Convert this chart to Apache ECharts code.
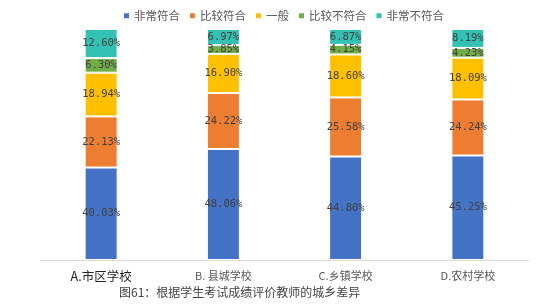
<!DOCTYPE html>
<html>
<head>
<meta charset="utf-8">
<script src="https://cdn.jsdelivr.net/npm/echarts@6/dist/echarts.min.js"></script>
<style>
  html, body {margin: 0; padding: 0; background: #fff;}
  #chart {width: 536px; height: 308px;}
</style>
</head>
<body>
<div id="chart"></div>
<script>
const categories = ['A.市区学校', 'B. 县城学校', 'C.乡镇学校', 'D.农村学校']
const seriesNames = ['非常符合', '比较符合', '一般', '比较不符合', '非常不符合']
const veryYes = [40.03, 48.06, 44.80, 45.25]
const fairlyYes = [22.13, 24.22, 25.58, 24.24]
const neutral = [18.94, 16.90, 18.60, 18.09]
const fairlyNo = [6.30, 3.85, 4.15, 4.23]
const veryNo = [12.60, 6.97, 6.87, 8.19]
const caption = '图61：根据学生考试成绩评价教师的城乡差异'

const colors = ['#4472C4', '#ED7D31', '#FFC000', '#70AD47', '#33C1B3']
const values = [veryYes, fairlyYes, neutral, fairlyNo, veryNo]

const myEcharts = echarts.init(document.getElementById('chart'))
myEcharts.setOption({
  animation: false,
  color: colors,
  textStyle: {fontFamily: '"Noto Sans CJK SC", sans-serif'},
  legend: {
    top: 5,
    left: 117,
    itemWidth: 7,
    itemHeight: 7,
    itemGap: 8,
    icon: 'rect',
    textStyle: {fontSize: 11.5, color: '#595959', padding: [0, 0, 0, -1]},
    data: seriesNames
  },
  grid: {left: 40, right: 7, top: 29, bottom: 48},
  xAxis: {
    type: 'category',
    data: categories,
    axisTick: {show: false},
    axisLine: {lineStyle: {color: '#d9d9d9'}},
    axisLabel: {
      margin: 10,
      fontSize: 11,
      color: '#595959',
      formatter: function (v, i) {
        return i === 0 ? '{big|' + v + '}' : v
      },
      rich: {big: {fontSize: 12.5, color: '#222'}}
    }
  },
  yAxis: {
    type: 'value',
    min: 0,
    max: 100,
    show: false,
    splitLine: {show: false}
  },
  graphic: [{
    type: 'text',
    left: 119,
    top: 286,
    style: {text: caption, fill: '#444', font: '12px "Noto Sans CJK SC"'}
  }],
  series: values.map(function (arr, k) {
    return {
      name: seriesNames[k],
      type: 'bar',
      stack: 'all',
      barWidth: 33,
      data: arr,
      itemStyle: {borderColor: '#fff', borderWidth: 1},
      label: {
        show: true,
        position: 'inside',
        fontSize: 10.5,
        color: '#404040',
        fontFamily: '"DejaVu Sans Mono", monospace',
        formatter: function (p) {
          return p.value.toFixed(2) + '%'
        }
      }
    }
  })
})
</script>
</body>
</html>
